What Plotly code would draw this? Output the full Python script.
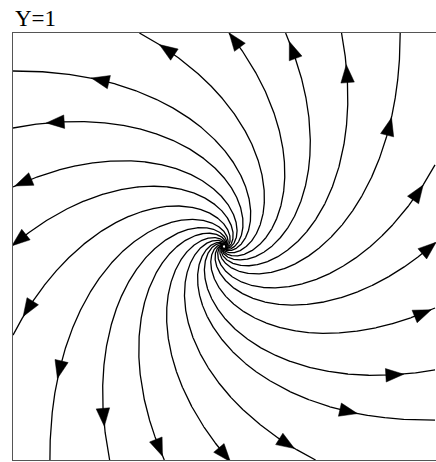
import numpy as np
import plotly.graph_objects as go

# Spiral source: u = A*x - B*y, v = B*x + A*y (counter-clockwise, outward)
A_GROWTH = 1.0
B_TURN = 0.84

# Points where each streamline leaves the unit box, by side
top_x = [0.835, 0.557, 0.292, 0.024, -0.401]
left_y = [0.822, 0.555, 0.279, 0.007, -0.415]
bottom_x = [-0.825, -0.542, -0.283, 0.024, 0.434]
right_y = [-0.813, -0.578, -0.288, 0.016, 0.382]

# Arc length (axis units) from the exit point back to each arrow
top_arrow = [0.44, 0.19, 0.085, 0.04, 0.15]
left_arrow = [0.415, 0.20, 0.05, 0.035, 0.14]
bottom_arrow = [0.425, 0.20, 0.06, 0.03, 0.155]
right_arrow = [0.41, 0.19, 0.06, 0.035, 0.15]

title_text = "Y=1"

W, H = 436, 462
M_L, M_R, M_T, M_B = 13, 0, 33, 2
X_RANGE = [-1.0, 1.0047]
Y_RANGE = [-1.0, 1.0]
px_x = (W - M_L - M_R) / (X_RANGE[1] - X_RANGE[0])
px_y = (H - M_T - M_B) / (Y_RANGE[1] - Y_RANGE[0])


def field(p):
    x, y = p
    return np.array([A_GROWTH * x - B_TURN * y, B_TURN * x + A_GROWTH * y])


def trace_back(p0, h=0.002, r_stop=0.008):
    """Follow the field backwards from an exit point toward the source."""
    pts = [np.array(p0, float)]
    p = pts[0]
    for _ in range(20000):
        def f(q):
            v = field(q)
            return -v / np.hypot(*v)
        k1 = f(p)
        k2 = f(p + h / 2 * k1)
        k3 = f(p + h / 2 * k2)
        k4 = f(p + h * k3)
        p = p + h / 6 * (k1 + 2 * k2 + 2 * k3 + k4)
        pts.append(p)
        if np.hypot(*p) < r_stop:
            break
    return np.array(pts)


exits = ([(x, 1.0) for x in top_x] + [(-1.0, y) for y in left_y]
         + [(x, -1.0) for x in bottom_x] + [(1.0, y) for y in right_y])
arrow_s = top_arrow + left_arrow + bottom_arrow + right_arrow

line_x, line_y = [], []
tri_x, tri_y = [], []
HEAD_LEN, HEAD_W = 18.0, 13.5  # pixels

for (ex, s_arrow) in zip(exits, arrow_s):
    pts = trace_back(ex)
    line_x += list(pts[:, 0]) + [None]
    line_y += list(pts[:, 1]) + [None]
    seg = np.hypot(np.diff(pts[:, 0]), np.diff(pts[:, 1]))
    s = np.concatenate([[0], np.cumsum(seg)])
    i = int(np.searchsorted(s, s_arrow))
    p = pts[min(i, len(pts) - 1)]
    d = field(p)
    # direction in screen pixels
    dpx = np.array([d[0] * px_x, d[1] * px_y])
    dpx /= np.hypot(*dpx)
    npx = np.array([-dpx[1], dpx[0]])
    c = np.array([p[0] * px_x, p[1] * px_y])
    tip = c + dpx * HEAD_LEN / 2
    b1 = c - dpx * HEAD_LEN / 2 + npx * HEAD_W / 2
    b2 = c - dpx * HEAD_LEN / 2 - npx * HEAD_W / 2
    for q in (tip, b1, b2, tip):
        tri_x.append(q[0] / px_x)
        tri_y.append(q[1] / px_y)
    tri_x.append(None)
    tri_y.append(None)

fig = go.Figure()
fig.add_trace(go.Scatter(x=line_x, y=line_y, mode="lines",
                         line=dict(color="black", width=1.3),
                         hoverinfo="skip", showlegend=False))
fig.add_trace(go.Scatter(x=tri_x, y=tri_y, mode="lines", fill="toself",
                         fillcolor="black", line=dict(color="black", width=0.5),
                         hoverinfo="skip", showlegend=False))

fig.add_annotation(text=title_text, x=0, xref="paper", xanchor="left",
                   y=1, yref="paper", yanchor="bottom", yshift=0,
                   showarrow=False,
                   font=dict(family="Liberation Serif", size=23, color="black"))

fig.update_xaxes(range=X_RANGE, showgrid=False, zeroline=False,
                 showticklabels=False, ticks="", showline=True, mirror=True,
                 linecolor="#555", linewidth=1.3)
fig.update_yaxes(range=Y_RANGE, showgrid=False, zeroline=False,
                 showticklabels=False, ticks="", showline=True, mirror=False,
                 linecolor="#555", linewidth=1.3)
fig.update_layout(width=W, height=H, margin=dict(l=M_L, r=M_R, t=M_T, b=M_B),
                  plot_bgcolor="white", paper_bgcolor="white")

fig.write_html("out.html")
